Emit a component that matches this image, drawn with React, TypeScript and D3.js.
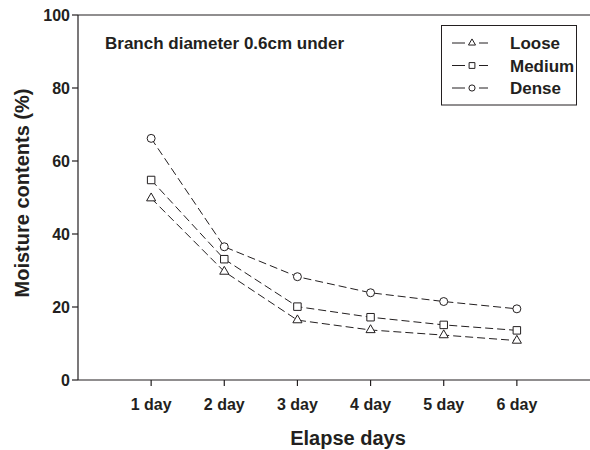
import React from 'react';
import { scaleLinear, scalePoint, line, symbol, symbolTriangle, symbolSquare, symbolCircle } from 'd3';

const days = ['1 day', '2 day', '3 day', '4 day', '5 day', '6 day'];
const loose = [49.8, 29.7, 16.4, 13.7, 12.3, 10.8];
const medium = [54.8, 33.1, 20.1, 17.2, 15.1, 13.6];
const dense = [66.2, 36.5, 28.3, 23.9, 21.5, 19.5];
const yTicks = [0, 20, 40, 60, 80, 100];
const seriesNames = ['Loose', 'Medium', 'Dense'];

const FONT = '"Liberation Sans", Arial, Helvetica, sans-serif';
const INK = '#231f20';

const series = [
  { name: seriesNames[0], values: loose, shape: symbolTriangle, size: 36 },
  { name: seriesNames[1], values: medium, shape: symbolSquare, size: 56 },
  { name: seriesNames[2], values: dense, shape: symbolCircle, size: 50 },
];

const App = () => {
  const width = 590;
  const height = 450;
  const left = 78;
  const top = 15;
  const bottom = 380;

  const x = scalePoint<string>().domain(days).range([left, width]).padding(1);
  const y = scaleLinear().domain([0, 100]).range([bottom, top]);

  const lineGen = line<number>()
    .x((d, i) => x(days[i]) as number)
    .y(d => y(d));

  return (
    <svg width={width} height={height} style={{ position: 'absolute', left: 0, top: 0, background: '#fff' }}
      fontFamily={FONT} fontWeight="bold">
      {/* frame */}
      <line x1={left} x2={width} y1={top} y2={top} stroke={INK} strokeWidth={1.2} />
      <line x1={left} x2={left} y1={top} y2={bottom} stroke={INK} strokeWidth={1.2} />
      <line x1={left} x2={width} y1={bottom} y2={bottom} stroke={INK} strokeWidth={1.2} />

      {/* y axis */}
      {yTicks.map(t => (
        <g key={t} transform={`translate(0,${y(t)})`}>
          <line x1={left - 6} x2={left} stroke={INK} strokeWidth={1.2} />
          <text x={left - 8} dy="0.35em" textAnchor="end" fontSize={16} fill={INK}>{t}</text>
        </g>
      ))}
      <text transform="translate(29,193) rotate(-90)" textAnchor="middle"
        fontSize={20} fill={INK}>Moisture contents (%)</text>

      {/* x axis */}
      {days.map(d => (
        <g key={d} transform={`translate(${x(d)},${bottom})`}>
          <line y1={0} y2={6} stroke={INK} strokeWidth={1.2} />
          <text y={30} textAnchor="middle" fontSize={16} fill={INK}>{d}</text>
        </g>
      ))}
      <text x={348} y={445} textAnchor="middle" fontSize={20} fill={INK}>Elapse days</text>

      {/* annotation */}
      <text x={105} y={49} fontSize={17} fill={INK}>Branch diameter 0.6cm under</text>

      {/* series */}
      {series.map(s => (
        <g key={s.name}>
          <path d={lineGen(s.values) || ''} fill="none" stroke={INK} strokeWidth={1} strokeDasharray="8,4" />
          {s.values.map((v, i) => (
            <path key={i} transform={`translate(${x(days[i])},${y(v)})`}
              d={symbol(s.shape, s.size)() || ''} fill="#fff" stroke={INK} strokeWidth={1} />
          ))}
        </g>
      ))}

      {/* legend */}
      <rect x={441.5} y={25.5} width={135} height={79.5} fill="#fff" stroke={INK} strokeWidth={1} />
      {series.map((s, i) => {
        const ly = 43 + i * 22.5;
        return (
          <g key={s.name}>
            <line x1={452} x2={465} y1={ly} y2={ly} stroke={INK} strokeWidth={1} />
            <line x1={479} x2={488} y1={ly} y2={ly} stroke={INK} strokeWidth={1} />
            <path transform={`translate(472,${ly})`} d={symbol(s.shape, s.size * 0.6)() || ''}
              fill="#fff" stroke={INK} strokeWidth={1} />
            <text x={510} y={ly + 6} fontSize={17} fill={INK}>{s.name}</text>
          </g>
        );
      })}
    </svg>
  );
};

export default App;
